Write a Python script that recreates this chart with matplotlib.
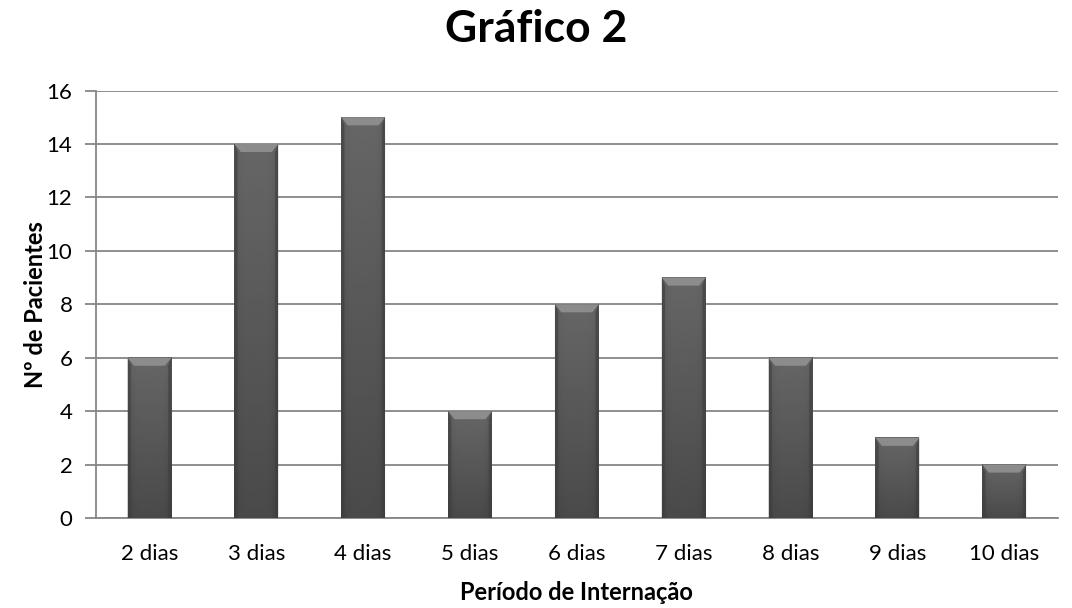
import matplotlib.pyplot as plt
import numpy as np
from matplotlib.patches import Polygon

plt.rcParams["font.family"] = ["Lato", "DejaVu Sans"]

categories = ["2 dias", "3 dias", "4 dias", "5 dias", "6 dias", "7 dias", "8 dias", "9 dias", "10 dias"]
pacientes = [6, 14, 15, 4, 8, 9, 6, 3, 2]

fig = plt.figure(figsize=(10.72, 6.08), dpi=100)
ax = fig.add_axes([0.0896, 0.148, 0.897, 0.703])

bar_w = 0.41
x = np.arange(len(categories))
ax.set_xlim(-0.5, len(categories) - 0.5)
ax.set_ylim(0, 16)

# gradient texture: lighter at the top, darker to the bottom and at the edges
h = np.linspace(0, 1, 64)
w = np.linspace(-1, 1, 32)
vert = 0.40 - 0.11 * h[:, None]
horiz = -0.05 * np.abs(w[None, :]) ** 6
shade = vert + horiz

for xi, val in zip(x, pacientes):
    x0, x1 = xi - bar_w / 2, xi + bar_w / 2
    ax.imshow(shade, cmap="gray", vmin=0, vmax=1, aspect="auto",
              extent=(x0, x1, 0, val), origin="upper", zorder=3,
              interpolation="bilinear")
    bev_h = 0.3
    bev_w = 0.06
    ax.add_patch(Polygon([(x0, val), (x1, val), (x1 - bev_w, val - bev_h),
                          (x0 + bev_w, val - bev_h)], closed=True,
                         facecolor="#8c8c8c", edgecolor="none", zorder=4))
    ax.add_patch(Polygon([(x0, 0), (x0, val), (x0 + bev_w * 0.5, val - bev_h),
                          (x0 + bev_w * 0.5, 0)], closed=True,
                         facecolor="#3f3f3f", edgecolor="none", zorder=4, alpha=0.6))
    ax.add_patch(Polygon([(x1, 0), (x1, val), (x1 - bev_w * 0.5, val - bev_h),
                          (x1 - bev_w * 0.5, 0)], closed=True,
                         facecolor="#3f3f3f", edgecolor="none", zorder=4, alpha=0.6))

ax.set_yticks(np.arange(0, 17, 2))
ax.yaxis.grid(True, color="#868686", linewidth=1.3, zorder=0)
ax.set_axisbelow(True)
ax.set_xticks(x)
ax.set_xticklabels(categories)
ax.tick_params(axis="x", length=0, pad=19, labelsize=16)
ax.tick_params(axis="y", length=8, width=1.3, color="#868686", pad=9, labelsize=16)
for side in ["top", "right"]:
    ax.spines[side].set_visible(False)
for side in ["left", "bottom"]:
    ax.spines[side].set_color("#868686")
    ax.spines[side].set_linewidth(1.3)

ax.set_xlabel("Período de Internação", fontsize=17, fontweight="bold", labelpad=12)
ax.set_ylabel("Nº de Pacientes", fontsize=17, fontweight="bold", labelpad=0)
fig.suptitle("Gráfico 2", fontsize=32, fontweight="bold", y=0.985)

fig.savefig("out.png", dpi=100)
